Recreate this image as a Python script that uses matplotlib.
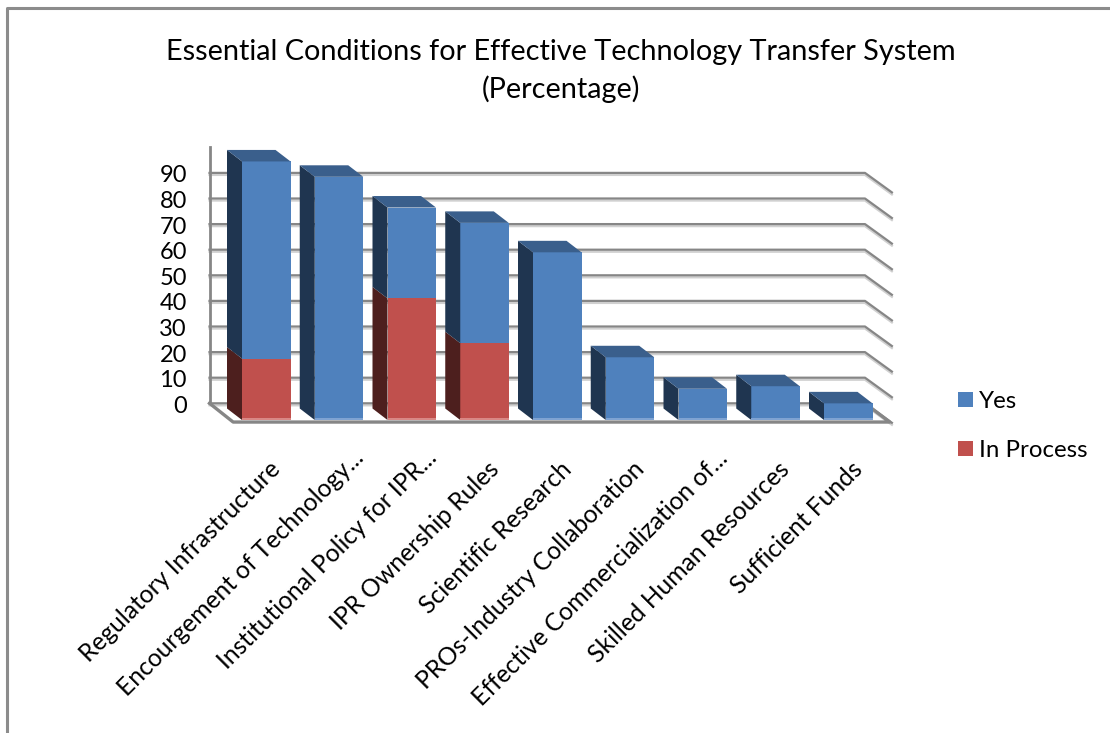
import matplotlib
matplotlib.use("Agg")
import matplotlib.pyplot as plt
import numpy as np

categories = ["Regulatory Infrastructure", "Encourgement of Technology...",
              "Institutional Policy for IPR...", "IPR Ownership Rules",
              "Scientific Research", "PROs-Industry Collaboration",
              "Effective Commercialization of...", "Skilled Human Resources",
              "Sufficient Funds"]
in_process = [24, 0, 47.5, 30, 0, 0, 0, 0, 0]
yes = [77, 95, 35.5, 47, 65.5, 24.5, 12.2, 13.2, 6.5]
ticks = [0, 10, 20, 30, 40, 50, 60, 70, 80, 90]

plt.rcParams['font.family'] = ['Lato', 'DejaVu Sans']

BLUE, BLUE_SIDE, BLUE_TOP = "#4F81BD", "#1F3550", "#3A5F8C"
RED, RED_SIDE = "#C0504D", "#4D1F1E"
BLUE_EDGE, RED_EDGE = "#7FA3D2", "#D98885"
GRID, GRID_SOFT = "#868686", "#D0D0D0"

# one category = 72.75 px, one percent = 2.56 px
PX_X, PX_Y = 72.75, 2.56
BAR_W = 48.5 / PX_X
DX, DY = 15 / PX_X, 11.5 / PX_Y          # bar depth
WALL_Y = 16.7 / PX_Y                     # back wall lift
WALL_L, WALL_R = -0.78, 8.23
FLOOR_L, FLOOR_R = -0.455, 8.57
FLOOR_Y = -0.8


def draw_bar(ax, i, bottom, height, front, side):
    left = i - BAR_W / 2
    ax.bar(i, height, BAR_W, bottom=bottom, color=front, linewidth=0, zorder=3)
    ax.fill([left, left - DX, left - DX, left],
            [bottom, bottom + DY, bottom + height + DY, bottom + height],
            color=side, linewidth=0, zorder=3)


fig = plt.figure(figsize=(11.1, 7.33), dpi=100)
ax = fig.add_axes([0, 0, 1, 1])
ax.set_xlim(-266.25 / PX_X, (1110 - 266.25) / PX_X)
ax.set_ylim(-313 / PX_Y, 420 / PX_Y)
ax.axis("off")

# outer frame
ax.plot([0.0065, 0.0065, 1], [0, 0.989, 0.989], color="#8C8C8C", lw=2.2,
        transform=ax.transAxes, solid_capstyle="butt")

# back wall and gridlines
for t in ticks:
    y = t + WALL_Y
    xs = [WALL_L, WALL_R, FLOOR_R + 0.03]
    ys = [y, y, y - 19.5 / PX_Y]
    ax.plot(xs, np.array(ys) - 0.8, color=GRID_SOFT, lw=1.6, zorder=1)
    ax.plot(xs, ys, color=GRID, lw=1.6, zorder=2)
    ax.text(-1.09, y - 0.4, str(t), ha="right", va="center_baseline", fontsize=17)

ax.plot([WALL_L, WALL_L], [WALL_Y, 100 + WALL_Y], color=GRID, lw=2, zorder=2)
ax.plot([WALL_L, FLOOR_L, FLOOR_R, WALL_R],
        [WALL_Y, FLOOR_Y, FLOOR_Y, WALL_Y], color=GRID, lw=2.4, zorder=2)

# stacked bars
for i in range(len(categories)):
    if in_process[i] > 0:
        draw_bar(ax, i, 0, in_process[i], RED, RED_SIDE)
    draw_bar(ax, i, in_process[i], yes[i], BLUE, BLUE_SIDE)
    total = in_process[i] + yes[i]
    left = i - BAR_W / 2
    ax.fill([left, left - DX, left - DX + BAR_W, left + BAR_W],
            [total, total + DY, total + DY, total],
            color=BLUE_TOP, linewidth=0, zorder=3)
    # light strip along the foot of each bar
    ax.bar(i, 0.7, BAR_W, color=RED_EDGE if in_process[i] > 0 else BLUE_EDGE,
           linewidth=0, zorder=4)

# category labels, the cut-off ones reach a bit further up
for i, name in enumerate(categories):
    shift = 11 if name.endswith("...") else 0
    ax.text(i + 0.03 + shift / PX_X, -14.5 + shift / PX_Y, name, rotation=45,
            ha="right", va="top", rotation_mode="anchor", fontsize=17.7)

# legend
for name, color, py in [("Yes", BLUE, 399.5), ("In Process", RED, 448.5)]:
    y = (420 - py) / PX_Y
    ax.bar((965 - 266.25) / PX_X, 15 / PX_Y, 15 / PX_X, bottom=y - 7.5 / PX_Y,
           color=color, linewidth=0)
    ax.text((979 - 266.25) / PX_X, y, name, ha="left", va="center_baseline",
            fontsize=17.3)

# title
ax.text((561 - 266.25) / PX_X, (420 - 52) / PX_Y, "Essential Conditions for Effective Technology Transfer System",
        ha="center", va="center", fontsize=20.75)
ax.text((561 - 266.25) / PX_X, (420 - 89) / PX_Y, "(Percentage)",
        ha="center", va="center", fontsize=20.75)

fig.savefig("out.png", dpi=100)
